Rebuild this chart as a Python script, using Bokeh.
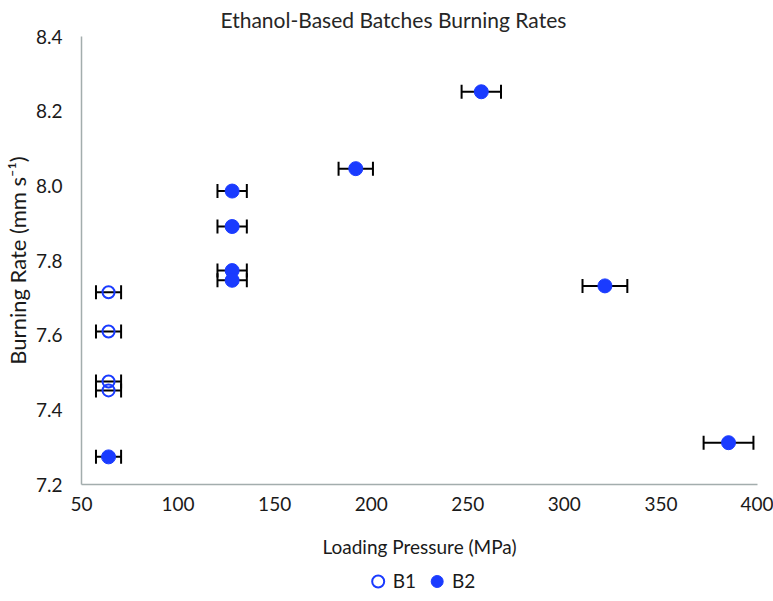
from bokeh.plotting import figure
from bokeh.layouts import column
from bokeh.models import (ColumnDataSource, Whisker, TeeHead, Legend, LegendItem,
                          FixedTicker, PrintfTickFormatter, Range1d)
from bokeh.embed import file_html
from bokeh.resources import INLINE

# ---- data ----
b1_pressure = [64, 64, 64, 64]
b1_rate = [7.715, 7.61, 7.476, 7.452]
b1_err = [6.5, 6.5, 6.5, 6.5]

b2_pressure = [64, 128, 128, 128, 128, 192, 257, 321, 385]
b2_rate = [7.274, 7.986, 7.891, 7.773, 7.747, 8.046, 8.252, 7.732, 7.312]
b2_err = [6.5, 7.6, 7.6, 7.6, 7.6, 8.9, 10.2, 11.6, 12.9]

series_names = ["B1", "B2"]
x_ticks = [50, 100, 150, 200, 250, 300, 350, 400]
y_ticks = [7.2, 7.4, 7.6, 7.8, 8.0, 8.2, 8.4]

BLUE = "#1A3BFF"
FONT = "Lato"

p = figure(width=773, height=560, output_backend="svg", toolbar_location=None,
           x_range=Range1d(50, 400), y_range=Range1d(7.2, 8.4),
           min_border_left=80, min_border_right=16, min_border_top=0,
           min_border_bottom=74)
p.outline_line_color = None
p.xgrid.visible = False
p.ygrid.visible = False

p.title.text = "Ethanol-Based Batches Burning Rates"
p.title.align = "left"
p.title.offset = 139
p.title.text_font = FONT
p.title.text_font_size = "21px"
p.title.text_font_style = "normal"
p.title.text_color = "#262626"
p.title.standoff = 9

for ax in (p.xaxis[0], p.yaxis[0]):
    ax.axis_line_color = "#A3ADAD"
    ax.axis_line_width = 1.5
    ax.major_tick_line_color = None
    ax.minor_tick_line_color = None
    ax.major_tick_out = 0
    ax.major_label_text_font = FONT
    ax.major_label_text_font_size = "19px"
    ax.major_label_text_color = "#1a1a1a"
    ax.axis_label_text_font = FONT
    ax.axis_label_text_font_size = "19px"
    ax.axis_label_text_font_style = "normal"
    ax.axis_label_text_color = "#1a1a1a"

p.xaxis.ticker = FixedTicker(ticks=x_ticks)
p.yaxis.ticker = FixedTicker(ticks=y_ticks)
p.yaxis.formatter = PrintfTickFormatter(format="%.1f")
p.xaxis.major_label_standoff = 12
p.yaxis.major_label_standoff = 19
p.xaxis.axis_label = "Loading Pressure (MPa)"
p.yaxis.axis_label = "Burning Rate (mm s\u207b\u00b9)"
p.yaxis.axis_label_text_font_size = "22px"
p.xaxis.axis_label_standoff = 21
p.yaxis.axis_label_standoff = 2

src1 = ColumnDataSource(dict(x=b1_pressure, y=b1_rate,
                             lo=[a - e for a, e in zip(b1_pressure, b1_err)],
                             hi=[a + e for a, e in zip(b1_pressure, b1_err)]))
src2 = ColumnDataSource(dict(x=b2_pressure, y=b2_rate,
                             lo=[a - e for a, e in zip(b2_pressure, b2_err)],
                             hi=[a + e for a, e in zip(b2_pressure, b2_err)]))

for src in (src1, src2):
    w = Whisker(base="y", lower="lo", upper="hi", dimension="width", source=src,
                line_color="black", line_width=2, level="underlay",
                upper_head=TeeHead(size=14, line_width=2, line_color="black"),
                lower_head=TeeHead(size=14, line_width=2, line_color="black"))
    p.add_layout(w)

open_style = dict(marker="circle", size=12, fill_color=None,
                  line_color=BLUE, line_width=2)
fill_style = dict(marker="circle", size=14, fill_color=BLUE,
                  line_color=BLUE, line_width=1)

p.scatter("x", "y", source=src1, **open_style)
p.scatter("x", "y", source=src2, **fill_style)

# legend strip below the chart (its renderers fall outside this strip's ranges,
# so only the legend swatches are visible)
lg = figure(width=773, height=41, output_backend="svg", toolbar_location=None,
            x_range=Range1d(0, 1), y_range=Range1d(0, 1),
            min_border=0)
lg.axis.visible = False
lg.grid.visible = False
lg.outline_line_color = None
l1 = lg.scatter("x", "y", source=src1, **open_style)
l2 = lg.scatter("x", "y", source=src2, **fill_style)
legend = Legend(items=[LegendItem(label=series_names[0], renderers=[l1]),
                       LegendItem(label=series_names[1], renderers=[l2])],
                orientation="horizontal", location="center",
                border_line_color=None, background_fill_alpha=0,
                label_text_font=FONT, label_text_font_size="19px",
                label_text_color="#1a1a1a", glyph_width=30, glyph_height=30,
                spacing=6, label_standoff=0, margin=0, padding=2)
lg.add_layout(legend, "center")

open("out.html", "w").write(file_html(column(p, lg, spacing=0), INLINE))
